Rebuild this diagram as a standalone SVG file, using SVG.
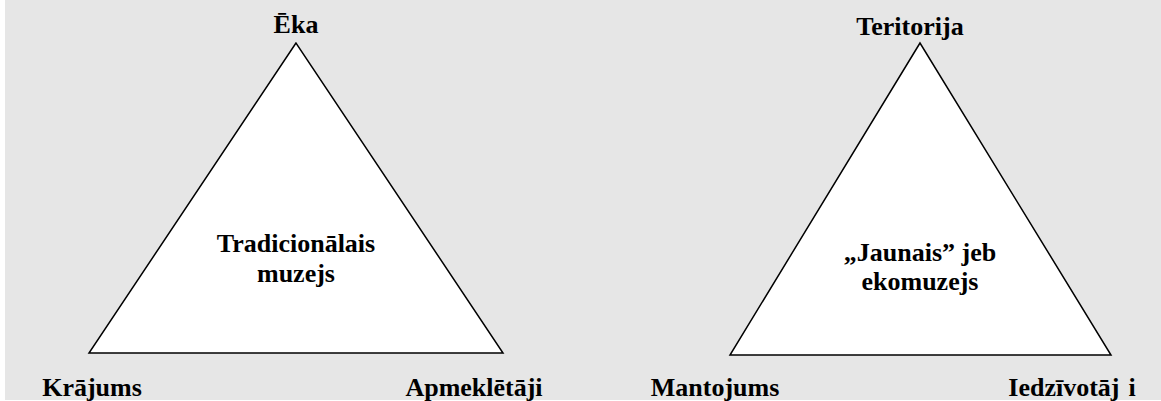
<svg xmlns="http://www.w3.org/2000/svg" width="1161" height="401" viewBox="0 0 1161 401">
<style>
.t{font-family:"Liberation Serif","Times New Roman",serif;font-weight:bold;font-size:26px;fill:#000;text-anchor:middle}
.tri{fill:#fff;stroke:#000;stroke-width:1.5;stroke-linejoin:miter}
</style>
<rect x="0" y="0" width="1161" height="401" fill="#fff"/>
<rect x="5" y="0" width="1156" height="400" fill="#e6e6e6"/>
<g id="connectors"></g>
<g id="traditional">
<polygon class="tri" points="296,43 89,353 503,353"/>
<text class="t" x="296" y="252">Tradicionālais</text>
<text class="t" x="296" y="282">muzejs</text>
</g>
<g id="eka"><text class="t" x="296" y="33">Ēka</text></g>
<g id="krajums"><text class="t" x="92" y="396">Krājums</text></g>
<g id="apmekletaji"><text class="t" x="474" y="396">Apmeklētāji</text></g>
<g id="ecomuseum">
<polygon class="tri" points="920,43 730,355 1111,355"/>
<text class="t" x="920" y="261">„Jaunais” jeb</text>
<text class="t" x="920" y="290">ekomuzejs</text>
</g>
<g id="teritorija"><text class="t" x="910" y="35">Teritorija</text></g>
<g id="mantojums"><text class="t" x="715" y="396">Mantojums</text></g>
<g id="iedzivotaji"><text class="t" x="1072" y="396">Iedzīvotāj<tspan dx="9">i</tspan></text></g>
</svg>
